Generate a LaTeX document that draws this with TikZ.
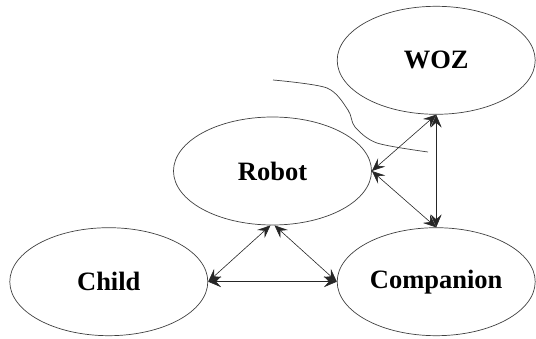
\documentclass[tikz,border=0pt]{standalone}
\usepackage{fontspec}
\setmainfont{Liberation Serif}
\usepackage{tikz}
\usetikzlibrary{shapes,shapes.geometric,arrows,arrows.meta,calc,positioning}
\usepackage{xcolor}

\begin{document}
\begin{tikzpicture}[x=1pt,y=-1pt,
	  every node/.style={align=center,text=black},
	  every matrix/.style={ampersand replacement=\&,column sep=-35pt,row sep=2pt},
	  agent/.style={ellipse,draw=black!75,line width=0.7pt,minimum width=198pt,minimum height=108pt,inner sep=0pt,font=\fontsize{26.5}{30}\selectfont\bfseries},
	  link/.style={{Stealth[length=13pt,width=11pt,inset=5pt]}-{Stealth[length=13pt,width=11pt,inset=5pt]},draw=black!85,line width=0.6pt},
	  stroke/.style={draw=black!75,line width=0.7pt}]

	  \useasboundingbox (0,0) rectangle (536,339);

	  % Lay the four ellipses out on a grid
	  \matrix at (272.5,171) {
	  \& \& \node[agent] (woz) {WOZ}; \\
	  \& \node[agent] (robot) {Robot}; \& \\
	  \node[agent] (child) {Child}; \& \& \node[agent] (companion) {Companion}; \\
	  };

	  % Freehand curve next to the robot
	  \draw[stroke] plot[smooth] coordinates {(273,80) (327,88) (348,110) (355,127) (377,143) (428,152)};

	  \draw[link] ([xshift=-2pt]robot.south) -- (child.east);
	  \draw[link] ([xshift=2pt]robot.south) -- (companion.west);
	  \draw[link] (child.east) -- (companion.west);
	  \draw[link] (robot.east) -- (woz.south);
	  \draw[link] (robot.east) -- (companion.north);
	  \draw[link] (woz.south) -- (companion.north);

\end{tikzpicture}
\end{document}
